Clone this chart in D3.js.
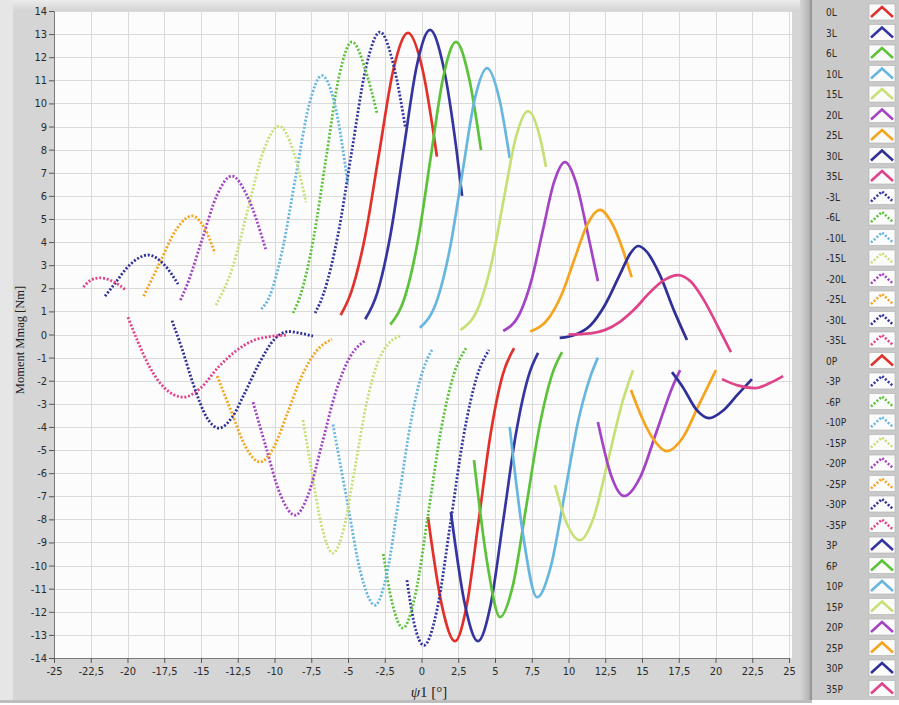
<!DOCTYPE html>
<html>
<head>
<meta charset="utf-8">
<script src="https://cdn.jsdelivr.net/npm/d3@7"></script>
<style>
  body { margin: 0; background: #fff; }
  svg { display: block; }
</style>
</head>
<body>
<svg id="chart" width="899" height="705"></svg>
<script>
// x: psi1 [deg], y: moment [Nm]
// L curves (positive moment)
const s0L = [[-5.5,0.84],[-4.8,1.8],[-3.85,4.2],[-2.87,7.9],[-1.9,11.5],[-0.92,13.05],[0.06,11.5],[1.05,7.7]]
const s3L = [[-3.83,0.66],[-3.02,1.78],[-2.12,4.28],[-1.22,7.99],[-0.32,11.63],[0.58,13.18],[1.48,11.63],[2.38,7.99],[2.76,6.0]]
const s6L = [[-2.12,0.43],[-1.09,1.71],[-0.23,4.11],[0.63,7.68],[1.49,11.17],[2.35,12.66],[3.21,11.17],[4.05,7.98]]
const s10L = [[-0.11,0.29],[1.1,1.56],[1.94,3.74],[2.78,6.99],[3.62,10.18],[4.46,11.53],[5.3,10.18],[6.0,7.64]]
const s15L = [[2.65,0.19],[3.96,1.31],[4.78,3.14],[5.6,5.87],[6.42,8.53],[7.24,9.67],[8.06,8.53],[8.47,7.25]]
const s20L = [[5.56,0.15],[6.76,1.01],[7.51,2.42],[8.26,4.52],[9.01,6.58],[9.76,7.46],[10.51,6.58],[11.26,4.52],[12.0,2.31]]
const s25L = [[7.4,0.13],[8.68,0.73],[9.55,1.75],[10.41,3.27],[11.28,4.76],[12.14,5.39],[13.0,4.76],[14.3,2.48]]
const s30L = [[9.4,-0.15],[10.5,0.0],[11.5,0.4],[12.5,1.3],[13.5,2.6],[14.2,3.5],[14.73,3.83],[15.3,3.6],[16.2,2.6],[17.2,1.0],[18.06,-0.24]]
const s35L = [[10.0,0.0],[11.5,0.05],[12.5,0.2],[13.5,0.55],[14.5,1.1],[15.5,1.8],[16.5,2.35],[17.45,2.57],[18.3,2.3],[19.2,1.5],[20.2,0.3],[21.05,-0.76]]
const sm3L = [[-7.24,0.93],[-6.66,1.77],[-5.7,4.25],[-4.74,7.94],[-3.78,11.55],[-2.82,13.09],[-1.86,11.55],[-1.1,8.97]]
const sm6L = [[-8.74,0.93],[-8.23,1.71],[-7.36,4.11],[-6.48,7.68],[-5.61,11.17],[-4.73,12.66],[-3.68,11.17],[-3.03,9.58]]
const sm10L = [[-10.9,1.1],[-10.37,1.6],[-9.47,3.64],[-8.57,6.79],[-7.67,9.88],[-6.77,11.2],[-5.87,9.88],[-5.0,6.47]]
const sm15L = [[-13.98,1.27],[-12.84,2.93],[-11.79,5.47],[-10.74,7.96],[-9.69,9.02],[-8.73,7.96],[-7.86,5.73]]
const sm20L = [[-16.4,1.49],[-15.9,2.23],[-14.9,4.16],[-13.9,6.05],[-12.9,6.86],[-11.9,6.05],[-10.58,3.65]]
const sm25L = [[-18.9,1.66],[-17.8,3.11],[-16.7,4.53],[-15.6,5.13],[-14.7,4.53],[-14.05,3.52]]
const sm30L = [[-21.53,1.66],[-21.0,2.09],[-19.8,3.04],[-18.6,3.44],[-17.5,3.02],[-16.56,2.18]]
const sm35L = [[-23.0,2.05],[-22.5,2.35],[-21.9,2.45],[-21.0,2.3],[-20.1,1.92]]
// P curves (negative moment)
const s0P = [[0.44,-7.9],[1.38,-11.71],[2.28,-13.27],[3.08,-11.71],[3.89,-8.05],[4.7,-4.31],[5.5,-1.8],[6.3,-0.59]]
const s3P = [[2.0,-7.69],[2.96,-11.71],[3.84,-13.27],[4.7,-11.71],[5.56,-8.05],[6.42,-4.31],[7.28,-1.8],[7.93,-0.8]]
const s6P = [[3.57,-5.44],[4.5,-10.0],[5.34,-12.23],[6.24,-10.79],[7.13,-7.42],[8.03,-3.97],[8.92,-1.66],[9.56,-0.76]]
const s10P = [[6.0,-4.0],[6.9,-8.63],[7.86,-11.37],[8.8,-10.03],[9.74,-6.9],[10.68,-3.69],[11.5,-1.8],[12.0,-1.0]]
const s15P = [[9.08,-6.52],[9.9,-8.2],[10.78,-8.9],[11.75,-7.85],[12.71,-5.4],[13.68,-2.89],[14.39,-1.54]]
const s20P = [[12.0,-3.79],[12.9,-6.1],[13.78,-6.99],[14.88,-6.17],[15.97,-4.24],[17.07,-2.27],[17.59,-1.54]]
const s25P = [[14.25,-2.4],[15.0,-3.6],[15.7,-4.46],[16.7,-5.05],[17.78,-4.46],[18.86,-3.06],[20.03,-1.54]]
const s30P = [[17.04,-1.63],[17.8,-2.3],[18.7,-3.25],[19.56,-3.62],[20.5,-3.3],[21.5,-2.6],[22.48,-1.93]]
const s35P = [[20.44,-1.93],[21.5,-2.2],[22.69,-2.32],[23.7,-2.1],[24.6,-1.8]]
const sm3P = [[-0.99,-10.63],[-0.5,-12.5],[0.17,-13.45],[1.07,-11.87],[1.97,-8.16],[2.87,-4.37],[3.77,-1.82],[4.59,-0.67]]
const sm6P = [[-2.6,-9.5],[-2.0,-11.6],[-1.26,-12.7],[-0.4,-11.2],[0.47,-7.7],[1.33,-4.12],[2.2,-1.72],[3.03,-0.59]]
const sm10P = [[-6.02,-3.9],[-5.09,-7.1],[-4.13,-10.33],[-3.16,-11.71],[-2.35,-10.33],[-1.54,-7.1],[-0.73,-3.8],[0.08,-1.58],[0.71,-0.67]]
const sm15P = [[-8.06,-3.7],[-7.52,-5.74],[-6.77,-8.35],[-6.02,-9.46],[-5.27,-8.35],[-4.52,-5.74],[-3.77,-3.07],[-3.02,-1.28],[-2.27,-0.42],[-1.46,-0.07]]
const sm20P = [[-11.46,-2.93],[-10.64,-4.74],[-9.62,-6.9],[-8.6,-7.82],[-7.69,-6.9],[-6.77,-4.74],[-5.86,-2.54],[-4.94,-1.06],[-3.78,-0.24]]
const sm25P = [[-13.9,-1.8],[-12.93,-3.35],[-11.96,-4.87],[-10.99,-5.52],[-10.04,-4.87],[-9.09,-3.35],[-8.14,-1.79],[-7.19,-0.75],[-6.09,-0.2]]
const sm30P = [[-16.97,0.6],[-16.3,-0.6],[-15.5,-2.2],[-14.6,-3.6],[-13.78,-4.05],[-12.9,-3.6],[-12.0,-2.5],[-11.0,-1.2],[-10.0,-0.2],[-9.0,0.13],[-8.2,0.05],[-7.38,-0.07]]
const sm35P = [[-19.97,0.75],[-19.3,-0.3],[-18.5,-1.4],[-17.5,-2.3],[-16.2,-2.71],[-15.0,-2.3],[-13.8,-1.4],[-12.6,-0.7],[-11.4,-0.25],[-10.2,-0.08],[-9.2,-0.03]]

const xTicks = [-25,-22.5,-20,-17.5,-15,-12.5,-10,-7.5,-5,-2.5,0,2.5,5,7.5,10,12.5,15,17.5,20,22.5,25]
const yTicks = d3.range(-14, 15)

const colors = {
    0: "#e2302a", 3: "#35359f", 6: "#5cc23a", 10: "#66b6e0", 15: "#c6e076",
    20: "#a443c4", 25: "#f5a41e", 30: "#2f2f98", 35: "#e0428a"
}

// legend order, as in the picture
const series = [
    ["0L", s0L, 0, false], ["3L", s3L, 3, false], ["6L", s6L, 6, false], ["10L", s10L, 10, false],
    ["15L", s15L, 15, false], ["20L", s20L, 20, false], ["25L", s25L, 25, false], ["30L", s30L, 30, false],
    ["35L", s35L, 35, false],
    ["-3L", sm3L, 3, true], ["-6L", sm6L, 6, true], ["-10L", sm10L, 10, true], ["-15L", sm15L, 15, true],
    ["-20L", sm20L, 20, true], ["-25L", sm25L, 25, true], ["-30L", sm30L, 30, true], ["-35L", sm35L, 35, true],
    ["0P", s0P, 0, false],
    ["-3P", sm3P, 3, true], ["-6P", sm6P, 6, true], ["-10P", sm10P, 10, true], ["-15P", sm15P, 15, true],
    ["-20P", sm20P, 20, true], ["-25P", sm25P, 25, true], ["-30P", sm30P, 30, true], ["-35P", sm35P, 35, true],
    ["3P", s3P, 3, false], ["6P", s6P, 6, false], ["10P", s10P, 10, false], ["15P", s15P, 15, false],
    ["20P", s20P, 20, false], ["25P", s25P, 25, false], ["30P", s30P, 30, false], ["35P", s35P, 35, false]
]

const plotLeft = 54, plotRight = 789, plotTop = 11, plotBottom = 658
const svg = d3.select("#chart")

// frame
const defs = svg.append("defs")
const g1 = defs.append("linearGradient").attr("id", "topband").attr("x1", 0).attr("x2", 0).attr("y1", 0).attr("y2", 1)
g1.append("stop").attr("offset", 0).attr("stop-color", "#ececec")
g1.append("stop").attr("offset", 1).attr("stop-color", "#d6d6d6")
const g2 = defs.append("linearGradient").attr("id", "sep").attr("x1", 0).attr("x2", 1)
g2.append("stop").attr("offset", 0).attr("stop-color", "#d4d4d4")
g2.append("stop").attr("offset", 0.7).attr("stop-color", "#b8b8b8")
g2.append("stop").attr("offset", 1).attr("stop-color", "#8c8c8c")

svg.append("rect").attr("x", 0).attr("y", 0).attr("width", 812).attr("height", 703).attr("fill", "#d5d5d5")
svg.append("rect").attr("x", 0).attr("y", 0).attr("width", 13).attr("height", 703).attr("fill", "#e6e6e6")
svg.append("rect").attr("x", 13).attr("y", 0).attr("width", 792).attr("height", 10).attr("fill", "url(#topband)")
svg.append("rect").attr("x", 800).attr("y", 0).attr("width", 12).attr("height", 703).attr("fill", "url(#sep)")
svg.append("rect").attr("x", 0).attr("y", 700).attr("width", 812).attr("height", 3).attr("fill", "#bdbdbd")
svg.append("rect").attr("x", 812).attr("y", 0).attr("width", 87).attr("height", 700).attr("fill", "#c9c9c9")

const x = d3.scaleLinear().domain([-25, 25]).range([plotLeft, plotRight])
const y = d3.scaleLinear().domain([-14, 14]).range([plotBottom, plotTop])

svg.append("rect")
    .attr("x", plotLeft).attr("y", plotTop)
    .attr("width", 792 - plotLeft).attr("height", plotBottom - plotTop)
    .attr("fill", "#fcfcfc")

// grid
const grid = svg.append("g").attr("stroke", "#dadada").attr("stroke-width", 1)
grid.selectAll("line.gx")
    .data(xTicks.slice(1))
    .join("line")
    .attr("x1", (d) => Math.round(x(d)) + 0.5).attr("x2", (d) => Math.round(x(d)) + 0.5)
    .attr("y1", plotTop).attr("y2", plotBottom)
grid.selectAll("line.gy")
    .data(yTicks.slice(1))
    .join("line")
    .attr("x1", plotLeft).attr("x2", 792)
    .attr("y1", (d) => Math.round(y(d)) + 0.5).attr("y2", (d) => Math.round(y(d)) + 0.5)

// axes
const fmt = (d) => String(d).replace(".", ",")
const yAxis = svg.append("g")
    .attr("transform", `translate(${plotLeft},0)`)
    .call(d3.axisLeft(y).tickValues(yTicks).tickSize(5).tickPadding(2).tickFormat((d) => d))
const xAxis = svg.append("g")
    .attr("transform", `translate(0,${plotBottom})`)
    .call(d3.axisBottom(x).tickValues(xTicks).tickSize(5).tickPadding(4).tickFormat(fmt))
for (const a of [yAxis, xAxis]) {
    a.select(".domain").attr("stroke", "#7a7a7a")
    a.selectAll(".tick line").attr("stroke", "#555")
    a.selectAll("text").attr("fill", "#2a2a2a").attr("font-family", "DejaVu Sans Condensed, DejaVu Sans")
        .attr("font-size", 11)
}

svg.append("text")
    .attr("transform", "translate(24,340) rotate(-90)")
    .attr("text-anchor", "middle")
    .attr("font-family", "Liberation Serif")
    .attr("font-size", 12.5)
    .attr("fill", "#222")
    .text("Moment Mmag [Nm]")

const xl = svg.append("text")
    .attr("x", 429).attr("y", 697)
    .attr("text-anchor", "middle")
    .attr("font-family", "Liberation Serif")
    .attr("font-size", 15)
    .attr("fill", "#222")
xl.append("tspan").attr("font-style", "italic").text("ψ")
xl.append("tspan").text("1 [°]")

// curves
const line = d3.line()
    .x((d) => x(d[0]))
    .y((d) => y(d[1]))
    .curve(d3.curveMonotoneX)

svg.append("g")
    .selectAll("path")
    .data(series)
    .join("path")
    .attr("fill", "none")
    .attr("stroke", (d) => colors[d[2]])
    .attr("stroke-width", (d) => (d[3] ? 2.8 : 2.7))
    .attr("stroke-dasharray", (d) => (d[3] ? "2,1.8" : null))
    .attr("stroke-linecap", "butt")
    .attr("d", (d) => line(d[1]))

// legend
const ly = d3.scaleLinear().domain([0, 33]).range([12, 688.5])
const leg = svg.append("g")
    .selectAll("g")
    .data(series)
    .join("g")
    .attr("transform", (d, i) => `translate(0,${ly(i)})`)
leg.append("text")
    .attr("x", 826).attr("y", 4)
    .attr("font-family", "DejaVu Sans Condensed, DejaVu Sans")
    .attr("font-size", 10)
    .attr("fill", "#2a2a2a")
    .text((d) => d[0])
leg.append("rect")
    .attr("x", 869).attr("y", -8).attr("width", 26).attr("height", 16)
    .attr("fill", "#fbfbfb").attr("stroke", "#b0b0b0").attr("stroke-width", 0.6)
leg.append("path")
    .attr("d", "M871,5 L882,-5 L893,5")
    .attr("fill", "none")
    .attr("stroke", (d) => colors[d[2]])
    .attr("stroke-width", (d) => (d[3] ? 2.6 : 2.5))
    .attr("stroke-dasharray", (d) => (d[3] ? "2,1.8" : null))
</script>
</body>
</html>
